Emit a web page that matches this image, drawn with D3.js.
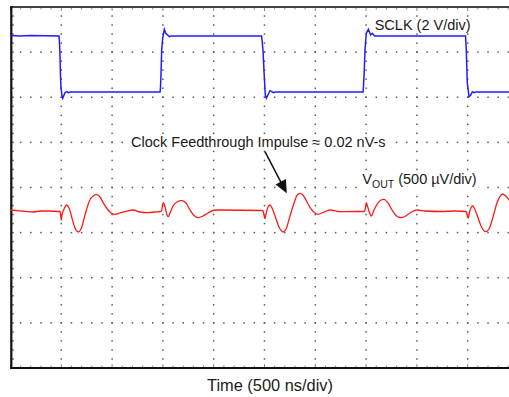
<!DOCTYPE html>
<html>
<head>
<meta charset="utf-8">
<script src="https://cdn.jsdelivr.net/npm/d3@7"></script>
<style>
  html, body { margin: 0; padding: 0; background: #fff; }
  svg { display: block; }
  text { font-family: "Liberation Sans", Arial, sans-serif; fill: #1a1a1a; }
</style>
</head>
<body>
<svg id="chart" width="509" height="397"></svg>
<script>
// ---- data (time in ns, amplitude in screen divisions from centre) ----
const blueTime = [0, 93, 192, 477, 482, 487, 492, 497, 507, 514, 527, 536, 553, 569, 586,
  1472, 1476, 1481, 1488, 1498, 1514, 1528, 1547, 1563, 1580,
  2471, 2478, 2485, 2498, 2508, 2518, 2538, 2554, 2571, 2587, 2604,
  3470, 3475, 3482, 3489, 3502, 3522, 3545, 3561, 3585, 3598,
  4479, 4486, 4496, 4513, 4530, 4546, 4562, 4579, 5000];
const blueDiv = [3.368, 3.357, 3.368, 3.357, 3.224, 2.936, 2.493, 2.205, 2.028, 1.977, 2.050, 2.101, 2.123, 2.101, 2.116,
  2.116, 2.205, 2.493, 3.047, 3.313, 3.506, 3.417, 3.380, 3.342, 3.357,
  3.357, 3.224, 3.047, 2.455, 2.050, 1.977, 2.072, 2.145, 2.123, 2.101, 2.116,
  2.116, 2.271, 2.604, 3.047, 3.417, 3.506, 3.380, 3.417, 3.357, 3.357,
  3.357, 3.047, 2.316, 2.012, 2.050, 2.123, 2.101, 2.116, 2.116];

const redTime = [0, 143, 221, 290, 389, 482, 487, 494, 500, 507, 527, 553, 576, 605, 635, 667, 694, 733, 773, 812, 848,
  881, 920, 960, 999, 1029, 1078, 1147, 1206, 1275, 1344, 1422, 1472,
  1486, 1496, 1504, 1521, 1540, 1553, 1570, 1600, 1639, 1685, 1727, 1767, 1806, 1846, 1895, 1944, 2013, 2062, 2476,
  2485, 2495, 2505, 2520, 2535, 2554, 2574, 2604, 2643, 2682, 2712, 2751, 2791, 2820, 2850, 2879, 2918, 2958, 2997,
  3027, 3076, 3145, 3243, 3391, 3480,
  3489, 3502, 3519, 3539, 3551, 3578, 3617, 3647, 3676, 3716, 3755, 3794, 3841, 3883, 3932, 4001, 4080, 4228, 4375, 4479,
  4488, 4496, 4506, 4518, 4533, 4549, 4562, 4592, 4631, 4677, 4710, 4749, 4788, 4818, 4842, 4868, 4907, 4937, 4980];
const redDiv = [-0.499, -0.527, -0.543, -0.521, -0.521, -0.532, -0.521, -0.632, -0.720, -0.609, -0.476, -0.388, -0.454, -0.676, -0.898, -0.986, -0.920, -0.609, -0.321, -0.188, -0.160,
  -0.211, -0.366, -0.499, -0.576, -0.594, -0.565, -0.521, -0.499, -0.543, -0.558, -0.543, -0.532,
  -0.521, -0.388, -0.337, -0.432, -0.609, -0.647, -0.565, -0.410, -0.321, -0.293, -0.343, -0.499, -0.620, -0.669, -0.632, -0.565, -0.499, -0.499, -0.510,
  -0.521, -0.609, -0.687, -0.543, -0.432, -0.388, -0.454, -0.632, -0.875, -0.986, -0.920, -0.632, -0.343, -0.177, -0.129, -0.166, -0.321, -0.476, -0.565,
  -0.594, -0.554, -0.499, -0.536, -0.532, -0.532,
  -0.499, -0.337, -0.454, -0.587, -0.632, -0.499, -0.343, -0.277, -0.261, -0.343, -0.499, -0.620, -0.669, -0.643, -0.565, -0.499, -0.521, -0.532, -0.521, -0.532,
  -0.543, -0.632, -0.676, -0.543, -0.443, -0.410, -0.443, -0.609, -0.853, -0.980, -0.920, -0.654, -0.343, -0.199, -0.144, -0.177, -0.277, -0.410, -0.521];

const xMajorTicks = [0, 500, 1000, 1500, 2000, 2500, 3000, 3500, 4000, 4500, 5000];
const yMajorTicks = [-4, -3, -2, -1, 0, 1, 2, 3, 4];

const sclkLabel = "SCLK (2 V/div)";
const annotationLabel = "Clock Feedthrough Impulse \u2248 0.02 nV-s";
const voutMain = "V", voutSub = "OUT", voutRest = " (500 \u00B5V/div)";
const xAxisLabel = "Time (500 ns/div)";

// ---- scales ----
const svg = d3.select("#chart");
const x = d3.scaleLinear().domain([0, 5000]).range([10.5, 518.5]);
const y = d3.scaleLinear().domain([-4, 4]).range([368, 7]);

// ---- graticule dots ----
const dotColor = "#5a5a5a";
const g = svg.append("g");
const minorX = d3.range(0, 5000.01, 100);
const minorY = d3.range(-4, 4.001, 0.2);
const dots = [];
yMajorTicks.slice(1, -1).forEach(v => minorX.forEach(t => { if (t > 0 && t < 5000) dots.push([x(t), y(v)]); }));
xMajorTicks.slice(1, -1).forEach(t => minorY.forEach(v => { if (v > -3.99 && v < 3.99) dots.push([x(t), y(v)]); }));
minorY.forEach(v => { if (v > -3.99 && v < 3.99) dots.push([x(0) + 2.5, y(v)]); });
g.selectAll("rect.dot").data(dots).join("rect")
  .attr("class", "dot")
  .attr("x", d => d[0] - 0.75).attr("y", d => d[1] - 0.75)
  .attr("width", 1.5).attr("height", 1.5)
  .attr("fill", dotColor);

// top/bottom border ticks
const tickG = svg.append("g").attr("stroke", "#888").attr("stroke-width", 1);
minorX.forEach(t => {
  const major = xMajorTicks.includes(Math.round(t));
  const len = major ? 4 : 2.5;
  tickG.append("line").attr("x1", x(t)).attr("x2", x(t)).attr("y1", y(4)).attr("y2", y(4) + len);
  tickG.append("line").attr("x1", x(t)).attr("x2", x(t)).attr("y1", y(-4)).attr("y2", y(-4) - len);
});

// ---- frame ----
svg.append("line").attr("x1", x(0)).attr("x2", 509).attr("y1", y(4)).attr("y2", y(4))
  .attr("stroke", "#444").attr("stroke-width", 2);
svg.append("line").attr("x1", x(0)).attr("x2", 509).attr("y1", y(-4)).attr("y2", y(-4))
  .attr("stroke", "#111").attr("stroke-width", 2.2);
svg.append("line").attr("x1", x(0) + 0.8).attr("x2", x(0) + 0.8).attr("y1", y(4) - 1).attr("y2", y(-4) + 1)
  .attr("stroke", "#111").attr("stroke-width", 2.2);

// ---- label backgrounds layer (below traces) ----
const bgLayer = svg.append("g");

// ---- traces ----
const line = d3.line().x(d => x(d[0])).y(d => y(d[1]));
svg.append("path")
  .datum(blueTime.map((t, i) => [t, blueDiv[i]]))
  .attr("d", line).attr("fill", "none").attr("stroke", "#1e1eff").attr("stroke-width", 1.5);
svg.append("path")
  .datum(redTime.map((t, i) => [t, redDiv[i]]))
  .attr("d", d3.line().curve(d3.curveMonotoneX).x(d => x(d[0])).y(d => y(d[1])))
  .attr("fill", "none").attr("stroke", "#ff1a1a").attr("stroke-width", 1.3);

// ---- labels ----
function withBg(sel, pad) {
  const b = sel.node().getBBox();
  bgLayer.append("rect").attr("x", b.x - pad).attr("y", b.y + 1).attr("width", b.width + 2 * pad)
    .attr("height", b.height - 1).attr("fill", "#fff");
  return sel;
}
withBg(svg.append("text").attr("x", 374.7).attr("y", 29.5).attr("font-size", 14.5).text(sclkLabel), 2);
withBg(svg.append("text").attr("x", 131).attr("y", 146.5).attr("font-size", 14.5).text(annotationLabel), 3);
const vt = svg.append("text").attr("x", 362.3).attr("y", 183.5).attr("font-size", 14.5);
vt.append("tspan").text(voutMain);
vt.append("tspan").attr("font-size", 10.5).attr("dy", 4).text(voutSub);
vt.append("tspan").attr("dy", -4).text(voutRest);
withBg(vt, 2);
svg.append("text").attr("x", 270).attr("y", 391).attr("text-anchor", "middle").attr("font-size", 16.4).text(xAxisLabel);

// ---- arrow (annotation) ----
const a0 = [x(2505), y(0.793)], a1 = [x(2719), y(-0.129)];
const dx = a1[0] - a0[0], dy = a1[1] - a0[1], L = Math.hypot(dx, dy);
const ux = dx / L, uy = dy / L, px = -uy, py = ux;
const headLen = 13, headHalf = 5.8;
const bx = a1[0] - headLen * ux, by = a1[1] - headLen * uy;
svg.append("line").attr("x1", a0[0]).attr("y1", a0[1]).attr("x2", bx + 2 * ux).attr("y2", by + 2 * uy)
  .attr("stroke", "#111").attr("stroke-width", 1.5);
svg.append("path")
  .attr("d", `M${a1[0]},${a1[1]}L${bx + headHalf * px},${by + headHalf * py}L${bx - headHalf * px},${by - headHalf * py}Z`)
  .attr("fill", "#111");
</script>
</body>
</html>
